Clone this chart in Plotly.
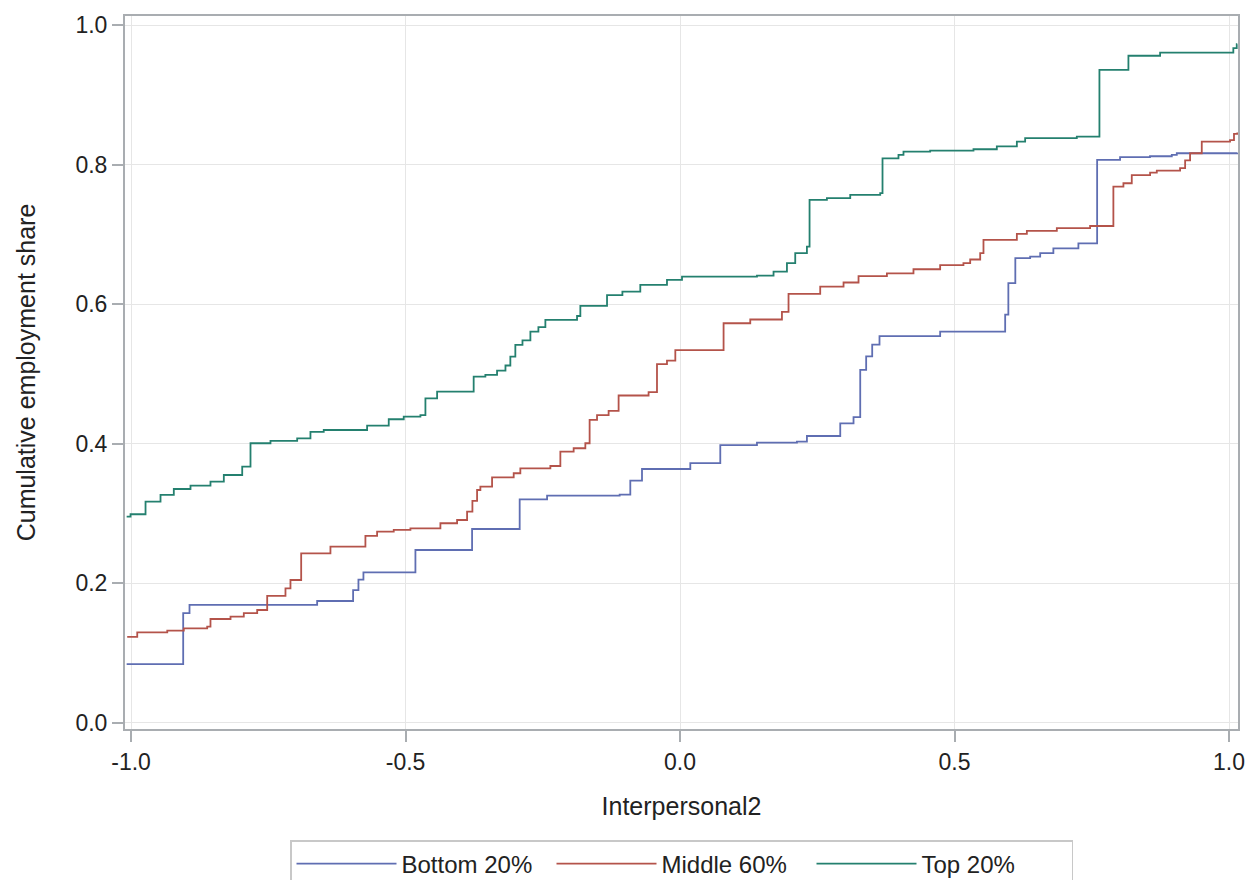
import plotly.graph_objects as go

# Bottom 20%
bottom_x = [-1.008, -0.905, -0.8935, -0.661, -0.5955, -0.5858, -0.5767, -0.482, -0.3788, -0.2921,
            -0.2422, -0.110, -0.0906, -0.0693, 0.0187, 0.0733, 0.1401, 0.2129, 0.2311, 0.2918,
            0.316, 0.3282, 0.339, 0.350, 0.3633, 0.4738, 0.5922, 0.598, 0.6107, 0.6377, 0.656,
            0.680, 0.7256, 0.7597, 0.8015, 0.856, 0.8957, 0.9048, 1.015]
bottom_y = [0.084, 0.157, 0.169, 0.1745, 0.190, 0.205, 0.2156, 0.2476, 0.2777, 0.320,
            0.3255, 0.327, 0.347, 0.3637, 0.372, 0.398, 0.4014, 0.403, 0.411, 0.429,
            0.438, 0.5057, 0.525, 0.542, 0.554, 0.5606, 0.585, 0.63, 0.666, 0.668, 0.673,
            0.680, 0.687, 0.8067, 0.8106, 0.812, 0.814, 0.8163, 0.817]

# Middle 60%
middle_x = [-1.007, -0.9887, -0.934, -0.9039, -0.8613, -0.8553, -0.8188, -0.7946, -0.7702, -0.752,
            -0.7187, -0.7096, -0.6901, -0.6368, -0.5731, -0.5518, -0.5215, -0.4911, -0.4365, -0.4061,
            -0.3879, -0.3782, -0.3697, -0.3637, -0.3424, -0.303, -0.2909, -0.2362, -0.218, -0.1938,
            -0.1725, -0.1647, -0.1512, -0.1301, -0.1119, -0.0573, -0.042, -0.0238, -0.0086, 0.0793,
            0.1279, 0.1856, 0.1976, 0.2553, 0.2978, 0.3251, 0.3768, 0.4252, 0.4738, 0.5162,
            0.5285, 0.5467, 0.5527, 0.6135, 0.6317, 0.6863, 0.7469, 0.7893, 0.8076, 0.8228,
            0.8562, 0.8684, 0.9108, 0.920, 0.929, 0.9503, 1.0018, 1.009, 1.015]
middle_y = [0.123, 0.1296, 0.132, 0.1353, 0.1376, 0.1487, 0.152, 0.157, 0.1616, 0.1817,
            0.1927, 0.2046, 0.2428, 0.2523, 0.2677, 0.2739, 0.2763, 0.2787, 0.2859, 0.2906,
            0.3025, 0.318, 0.3336, 0.3384, 0.3518, 0.3576, 0.3647, 0.368, 0.3886, 0.3934,
            0.4006, 0.434, 0.441, 0.447, 0.469, 0.474, 0.514, 0.519, 0.534, 0.5726,
            0.578, 0.589, 0.6146, 0.625, 0.631, 0.640, 0.644, 0.650, 0.656, 0.6587,
            0.664, 0.673, 0.692, 0.7006, 0.705, 0.709, 0.712, 0.7685, 0.7733, 0.785,
            0.7885, 0.7914, 0.795, 0.806, 0.8163, 0.833, 0.835, 0.844, 0.846]

# Top 20%
top_x = [-1.008, -1.0009, -0.9736, -0.9463, -0.9221, -0.8917, -0.8553, -0.831, -0.7975, -0.7824,
         -0.746, -0.6974, -0.6732, -0.649, -0.570, -0.5306, -0.5033, -0.4729, -0.4638, -0.4425,
         -0.3759, -0.3546, -0.3333, -0.318, -0.3091, -0.300, -0.287, -0.2726, -0.258, -0.2453,
         -0.1876, -0.1816, -0.133, -0.105, -0.0724, -0.0238, 0.0036, 0.1401, 0.1703, 0.1947,
         0.2098, 0.2311, 0.2359, 0.2675, 0.310, 0.3646, 0.3688, 0.3979, 0.407, 0.4556,
         0.5345, 0.577, 0.6135, 0.6286, 0.7227, 0.7639, 0.8167, 0.8744, 1.0078, 1.014, 1.015]
top_y = [0.2954, 0.2988, 0.3169, 0.3265, 0.335, 0.3398, 0.3455, 0.3551, 0.367, 0.4006,
         0.404, 0.4077, 0.417, 0.4196, 0.4258, 0.435, 0.4387, 0.441, 0.465, 0.4746,
         0.496, 0.4985, 0.5047, 0.512, 0.5247, 0.5415, 0.548, 0.5606, 0.567, 0.5774,
         0.583, 0.5974, 0.613, 0.618, 0.6275, 0.6347, 0.6394, 0.641, 0.6466, 0.6587,
         0.673, 0.6825, 0.7494, 0.752, 0.7566, 0.759, 0.809, 0.814, 0.8186, 0.820,
         0.822, 0.826, 0.833, 0.838, 0.840, 0.9358, 0.956, 0.9606, 0.967, 0.9726, 0.9726]

series_names = ["Bottom 20%", "Middle 60%", "Top 20%"]
series_colors = ["#5f6eb2", "#b4534a", "#24806f"]

x_tickvals = [-1.0, -0.5, 0.0, 0.5, 1.0]
x_ticktext = ["-1.0", "-0.5", "0.0", "0.5", "1.0"]
y_tickvals = [0.0, 0.2, 0.4, 0.6, 0.8, 1.0]
y_ticktext = ["0.0", "0.2", "0.4", "0.6", "0.8", "1.0"]

FONT = "Liberation Sans, Arial, sans-serif"

fig = go.Figure()
for name, xs, ys, col in zip(series_names, [bottom_x, middle_x, top_x],
                             [bottom_y, middle_y, top_y], series_colors):
    fig.add_trace(go.Scatter(x=xs, y=ys, name=name, mode="lines",
                             line=dict(color=col, width=1.8, shape="hv")))

axis_common = dict(showline=True, linecolor="#a9adb1", linewidth=2, mirror=True,
                   showgrid=True, gridcolor="#e6e6e6", gridwidth=1.2, zeroline=False,
                   ticks="outside", ticklen=11, tickcolor="#a9adb1", tickwidth=1.5,
                   automargin=False,
                   tickfont=dict(family=FONT, size=23, color="#222222"))

fig.update_layout(
    width=1250, height=880,
    margin=dict(l=125, r=12, t=16, b=151, autoexpand=False),
    paper_bgcolor="white", plot_bgcolor="white",
    font=dict(family=FONT, color="#222222"),
    xaxis=dict(range=[-1.011, 1.0163], tickvals=x_tickvals, ticktext=x_ticktext,
               title=dict(text="Interpersonal2", font=dict(family=FONT, size=25), standoff=24),
               **axis_common),
    yaxis=dict(range=[-0.009, 1.013], tickvals=y_tickvals, ticktext=y_ticktext,
               title=dict(text="Cumulative employment share", font=dict(family=FONT, size=25), standoff=33),
               **axis_common),
    legend=dict(orientation="h", x=0.5, xanchor="center", y=-0.1557, yanchor="top",
                bordercolor="#c8c8c8", borderwidth=1.5, bgcolor="white",
                font=dict(family=FONT, size=24, color="#222222"), itemwidth=100,
                entrywidth=145, entrywidthmode="pixels"),
    showlegend=True,
)

fig.write_html("out.html")
